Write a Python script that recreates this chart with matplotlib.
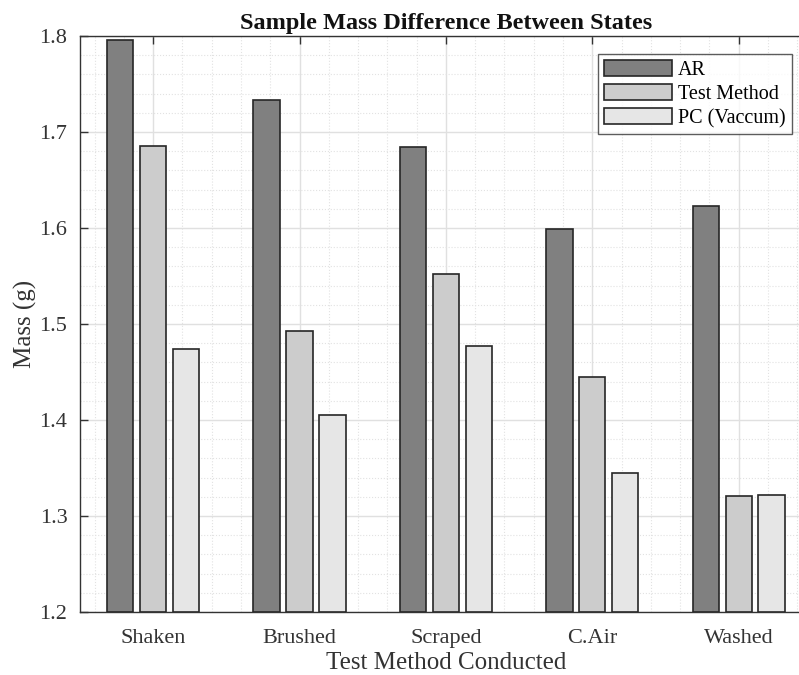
import numpy as np
import matplotlib
matplotlib.use("Agg")
import matplotlib.pyplot as plt
from matplotlib.ticker import MultipleLocator

# -----------------------------
# Data
# -----------------------------

methods = ["Shaken", "Brushed", "Scraped", "C.Air", "Washed"]
series_names = ["AR", "Test Method", "PC (Vaccum)"]

ar_mass = [1.796, 1.733, 1.684, 1.599, 1.623]
test_mass = [1.685, 1.493, 1.552, 1.445, 1.321]
pc_mass = [1.474, 1.405, 1.477, 1.345, 1.322]

colors = ["#808080", "#cccccc", "#e6e6e6"]

# -----------------------------
# Graph
# -----------------------------

plt.rcParams["font.family"] = ["Liberation Serif", "DejaVu Serif"]

fig = plt.figure(figsize=(7.99, 6.75), dpi=100)
ax = fig.add_axes([0.1001, 0.0933, 0.916, 0.8533])

x = np.arange(1, len(methods) + 1)
width = 0.18
offsets = [-0.225, 0.0, 0.225]

for vals, name, col, off in zip([ar_mass, test_mass, pc_mass], series_names, colors, offsets):
    ax.bar(x + off, np.array(vals) - 1.2, width, bottom=1.2, color=col,
           edgecolor="#262626", linewidth=1.2, label=name, zorder=3)

ax.set_xlim(0.5, 5.5)
ax.set_ylim(1.2, 1.8)
ax.set_xticks(x)
ax.set_xticklabels(methods)
ax.set_yticks(np.arange(1.2, 1.81, 0.1))
ax.xaxis.set_minor_locator(MultipleLocator(0.2))
ax.yaxis.set_minor_locator(MultipleLocator(0.02))

ax.grid(True, which="major", color="#e0e0e0", linewidth=1.0, zorder=0)
ax.grid(True, which="minor", color="#e2e2e2", linestyle=":", linewidth=0.8, zorder=0)
ax.set_axisbelow(True)

ax.tick_params(which="major", direction="in", length=6, width=1, top=True, right=True,
               labelsize=16, colors="#333333")
ax.tick_params(axis="x", which="major", pad=12)
ax.tick_params(axis="y", which="major", pad=9)
ax.tick_params(which="minor", length=0)
for sp in ax.spines.values():
    sp.set_color("#333333")
    sp.set_linewidth(1.0)

ax.set_xlabel("Test Method Conducted", fontsize=18, color="#333333", labelpad=3)
ax.set_ylabel("Mass (g)", fontsize=18, color="#333333", labelpad=2)
ax.set_title("Sample Mass Difference Between States", fontsize=17.5,
             fontweight="bold", color="#111111", pad=5)

leg = ax.legend(loc="upper right", bbox_to_anchor=(0.9727, 0.9688), fontsize=14.5,
                frameon=True, fancybox=False, edgecolor="#333333",
                handlelength=3.4, handleheight=0.85, borderaxespad=0,
                labelspacing=0.2, handletextpad=0.3, borderpad=0.3)
leg.get_frame().set_linewidth(1.0)

fig.savefig("out.png", dpi=100)
